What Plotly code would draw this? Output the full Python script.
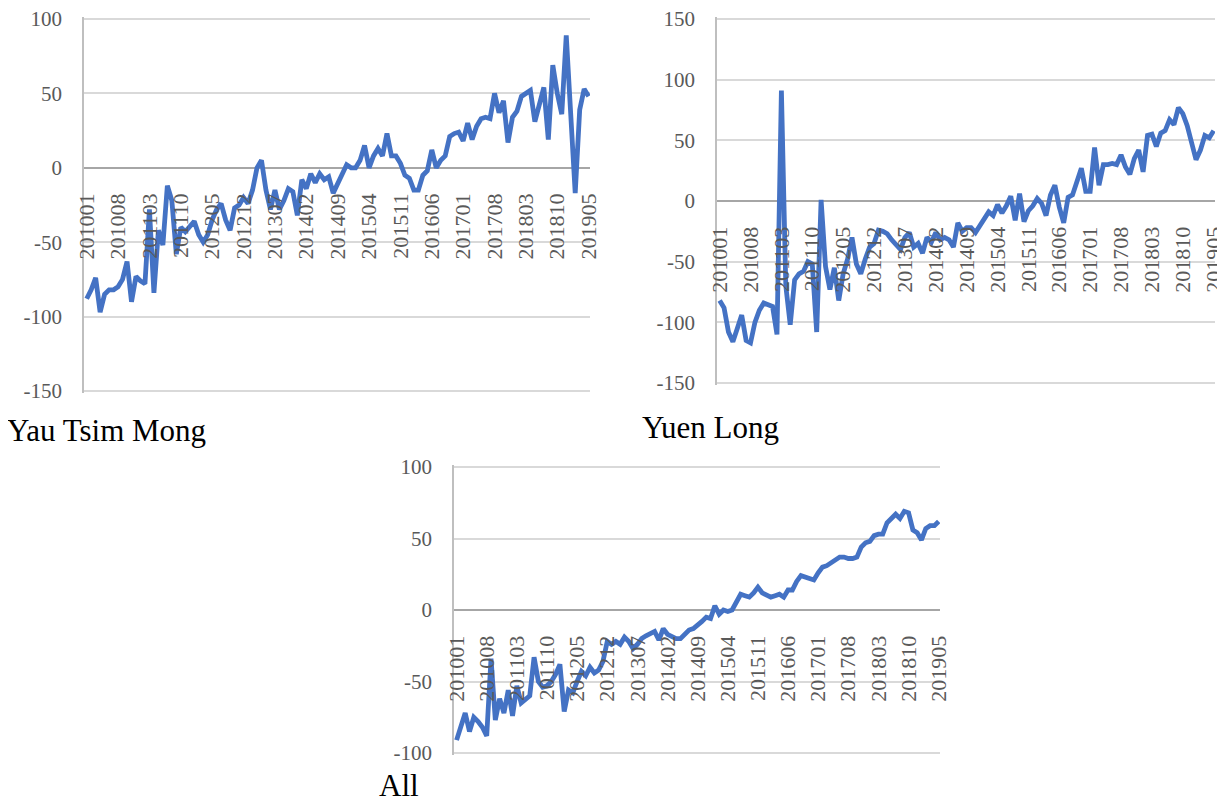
import plotly.graph_objects as go

# ---------------- data ----------------
tick_labels = ["201001", "201008", "201103", "201110", "201205", "201212", "201307",
               "201402", "201409", "201504", "201511", "201606", "201701", "201708",
               "201803", "201810", "201905"]
tick_positions = [0, 7, 14, 21, 28, 35, 42, 49, 56, 63, 70, 77, 84, 91, 98, 105, 112]

yau_tsim_mong = [-88, -82, -74, -97, -85, -82, -82, -80, -75, -63, -90, -73, -76, -78, -28, -84,
                 -42, -52, -12, -22, -58, -40, -43, -40, -36, -45, -50, -45, -35, -28, -24, -35,
                 -42, -27, -25, -20, -24, -15, 0, 5, -15, -28, -15, -28, -22, -14, -16, -32,
                 -8, -14, -4, -10, -4, -8, -6, -17, -10, -3, 2, 0, 0, 5, 15, 0,
                 8, 13, 8, 23, 8, 8, 3, -5, -7, -15, -15, -5, -2, 12, 0, 5,
                 8, 21, 23, 24, 18, 30, 19, 28, 33, 34, 33, 50, 37, 45, 17, 34,
                 38, 48, 50, 52, 31, 42, 54, 19, 69, 50, 36, 89, 36, -17, 39, 53, 48]

yuen_long = [-82, -88, -108, -116, -105, -94, -115, -117, -100, -90, -84, -86, -87, -110, 91, -70,
             -102, -65, -60, -58, -50, -52, -108, 1, -54, -73, -55, -82, -60, -48, -30, -52,
             -60, -48, -38, -35, -24, -25, -27, -32, -36, -40, -30, -26, -38, -35, -43, -30,
             -34, -26, -32, -30, -32, -38, -18, -25, -22, -22, -26, -20, -14, -9, -12, -3,
             -10, -4, 4, -16, 6, -17, -8, -4, 2, -2, -12, 5, 13, -5, -18, 3,
             5, 15, 27, 8, 8, 44, 13, 30, 30, 31, 30, 38, 28, 22, 35, 42,
             24, 54, 55, 45, 56, 58, 67, 63, 77, 72, 62, 48, 34, 42, 54, 52, 58]

all_districts = [-91, -82, -72, -85, -75, -78, -82, -88, -34, -77, -62, -72, -56, -74, -53, -65,
                 -62, -60, -33, -50, -54, -53, -50, -45, -38, -71, -56, -58, -50, -43, -46, -40,
                 -44, -42, -36, -22, -24, -22, -24, -19, -22, -27, -24, -20, -18, -16, -15, -21,
                 -13, -17, -19, -20, -20, -17, -14, -13, -11, -8, -5, -6, 3, -3, 0, -1,
                 0, 6, 11, 10, 9, 12, 16, 12, 10, 9, 10, 11, 9, 14, 14, 20,
                 24, 23, 22, 21, 26, 30, 31, 33, 35, 37, 37, 36, 36, 37, 44, 47,
                 48, 52, 53, 53, 61, 64, 67, 64, 69, 68, 56, 54, 49, 57, 59, 59, 62]

panel_titles = ["Yau Tsim Mong", "Yuen Long", "All"]

# ---------------- styling ----------------
OFF = 8                      # page body margin of the html page
W, H = 1225 - OFF, 804 - OFF
LINE_COLOR = "#4472C4"
GRID = "#d9d9d9"
ZERO = "#a6a6a6"
SERIF = "Liberation Serif, Times New Roman, serif"
TICK_FONT = dict(family=SERIF, size=21, color="#595959")
XTICK_FONT = dict(family=SERIF, size=22, color="#595959")
PAD = 2  # px of extra room so edge gridlines are drawn


def px_x(a, b):
    return [(a - OFF) / W, (b - OFF) / W]


def px_y(top, bottom):
    return [(H - (bottom - OFF)) / H, (H - (top - OFF)) / H]


panels = [
    dict(series=yau_tsim_mong, left=84, right=590, top=19, bottom=391, yr=[-150, 100],
         yt=[-150, -100, -50, 0, 50, 100]),
    dict(series=yuen_long, left=717, right=1215, top=19, bottom=383, yr=[-150, 150],
         yt=[-150, -100, -50, 0, 50, 100, 150]),
    dict(series=all_districts, left=454, right=940, top=467, bottom=753, yr=[-100, 100],
         yt=[-100, -50, 0, 50, 100]),
]

fig = go.Figure()
layout = {}
idx = list(range(len(yau_tsim_mong)))

for k, p in enumerate(panels):
    n = "" if k == 0 else str(k + 1)
    fig.add_trace(go.Scatter(x=idx, y=p["series"], xaxis="x" + n, yaxis="y" + n,
                             mode="lines", line=dict(color=LINE_COLOR, width=4.8),
                             showlegend=False, hoverinfo="skip"))
    ymin, ymax = p["yr"]
    upp = (ymax - ymin) / (p["bottom"] - p["top"])
    yrange = [ymin - PAD * upp, ymax + PAD * upp]
    y0, y1 = px_y(p["top"] - PAD, p["bottom"] + PAD)
    zero_pos = y0 + (0 - yrange[0]) / (yrange[1] - yrange[0]) * (y1 - y0)
    layout["xaxis" + n] = dict(
        domain=px_x(p["left"], p["right"]), range=[-0.6, 112.3], anchor="free",
        position=zero_pos,
        tickmode="array", tickvals=tick_positions, ticktext=tick_labels,
        tickangle=-90, tickfont=XTICK_FONT, showgrid=False, zeroline=False,
        showline=False, ticks="outside", ticklen=16, tickcolor="rgba(0,0,0,0)",
        fixedrange=True, automargin=False, ticklabeloverflow="allow",
    )
    layout["yaxis" + n] = dict(
        domain=[y0, y1], range=yrange, anchor="x" + n,
        tickmode="array", tickvals=p["yt"], ticktext=[str(v) for v in p["yt"]],
        tickfont=TICK_FONT, showgrid=True, gridcolor=GRID, gridwidth=1.5,
        zeroline=True, zerolinecolor=ZERO, zerolinewidth=2,
        showline=True, linecolor="#bfbfbf", linewidth=1.5,
        ticks="outside", ticklen=16, tickcolor="rgba(0,0,0,0)", fixedrange=True,
        automargin=False, ticklabeloverflow="allow",
    )

title_pos = [(5, 430), (640, 428), (377, 785)]
annotations = []
for t, (tx, ty) in zip(panel_titles, title_pos):
    annotations.append(dict(text=t, xref="paper", yref="paper",
                            x=(tx - OFF) / W, y=1 - (ty - OFF) / H,
                            xanchor="left", yanchor="middle", showarrow=False,
                            font=dict(family=SERIF, size=31, color="#000000")))

fig.update_layout(
    width=W, height=H, margin=dict(l=0, r=0, t=0, b=0, pad=0),
    paper_bgcolor="white", plot_bgcolor="white",
    annotations=annotations, showlegend=False, **layout,
)

fig.write_html("out.html")
